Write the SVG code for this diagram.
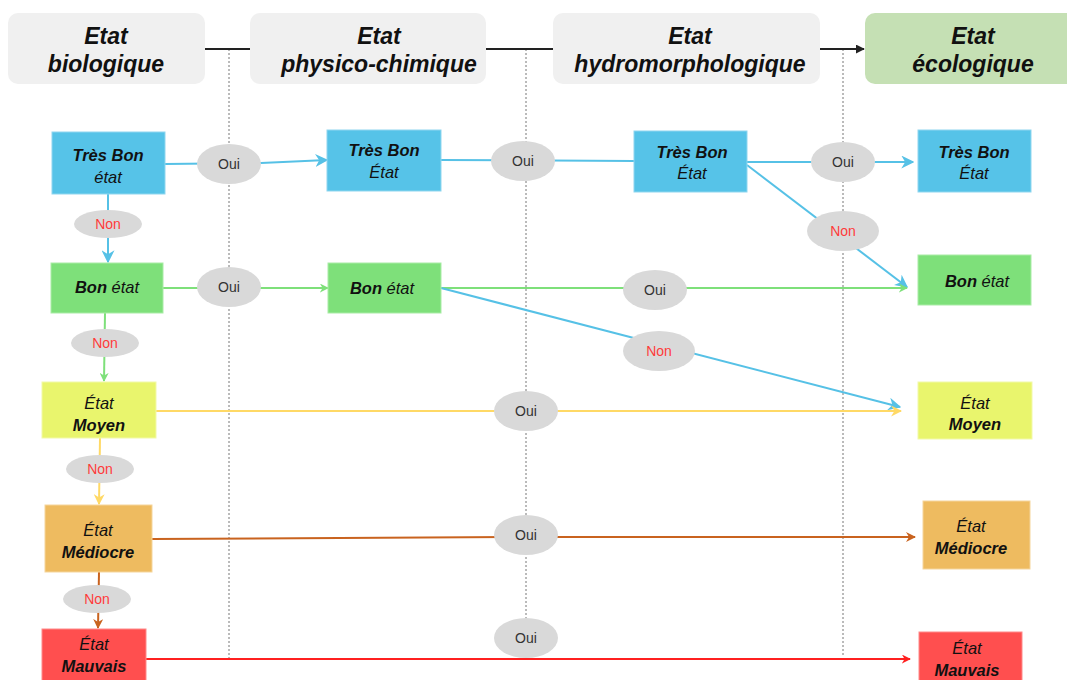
<svg xmlns="http://www.w3.org/2000/svg" width="1067" height="680" viewBox="0 0 1067 680">
<style>
.hdr{fill:#f0f0f0}
.hdrt{font-family:"Liberation Sans",Arial,sans-serif;font-size:23px;font-weight:bold;font-style:italic;fill:#111;text-anchor:middle}
.t{font-family:"Liberation Sans",Arial,sans-serif;font-size:16.5px;font-style:italic;fill:#111;text-anchor:middle}
.b{font-weight:bold}
.n{font-weight:normal}
.ell{fill:#d9d9d9}
.oui{font-family:"Liberation Sans",Arial,sans-serif;font-size:14px;fill:#333;text-anchor:middle}
.non{font-family:"Liberation Sans",Arial,sans-serif;font-size:14px;fill:#ff3b3b;text-anchor:middle}
.dot{stroke:#777;stroke-width:1;stroke-dasharray:2 2;fill:none}
.c{fill:none;stroke-width:2}
.blue{stroke:#56c1e6}
.green{stroke:#7ee07a}
.yellow{stroke:#ffd966}
.orange{stroke:#c9631f}
.red{stroke:#ff2020}
</style>
<defs>
<marker id="aBlueL" viewBox="0 0 10 10" refX="9" refY="5" markerWidth="13" markerHeight="13" markerUnits="userSpaceOnUse" orient="auto"><path d="M0,0 L10,5 L0,10 L3,5 Z" fill="#56c1e6"/></marker>
<marker id="aGreen" viewBox="0 0 10 10" refX="9" refY="5" markerWidth="9" markerHeight="9" markerUnits="userSpaceOnUse" orient="auto"><path d="M0,0 L10,5 L0,10 L3,5 Z" fill="#7ee07a"/></marker>
<marker id="aYellow" viewBox="0 0 10 10" refX="9" refY="5" markerWidth="11" markerHeight="11" markerUnits="userSpaceOnUse" orient="auto"><path d="M0,0 L10,5 L0,10 L3,5 Z" fill="#ffd966"/></marker>
<marker id="aOrange" viewBox="0 0 10 10" refX="9" refY="5" markerWidth="10" markerHeight="10" markerUnits="userSpaceOnUse" orient="auto"><path d="M0,0 L10,5 L0,10 L3,5 Z" fill="#c9631f"/></marker>
<marker id="aRed" viewBox="0 0 10 10" refX="9" refY="5" markerWidth="9" markerHeight="9" markerUnits="userSpaceOnUse" orient="auto"><path d="M0,0 L10,5 L0,10 L3,5 Z" fill="#ff2020"/></marker>
<marker id="aBlack" viewBox="0 0 10 10" refX="9" refY="5" markerWidth="9" markerHeight="9" markerUnits="userSpaceOnUse" orient="auto"><path d="M0,0 L10,5 L0,10 Z" fill="#222"/></marker>
</defs>
<rect width="1067" height="680" fill="#fff"/>

<g id="guides">
<line class="dot" x1="229" y1="49" x2="229" y2="660"/>
<line class="dot" x1="526" y1="49" x2="526" y2="656"/>
<line class="dot" x1="843" y1="49" x2="843" y2="656"/>
</g>

<g id="connectors">
<line x1="205" y1="49" x2="250" y2="49" stroke="#222" stroke-width="2"/>
<line x1="486" y1="49" x2="553" y2="49" stroke="#222" stroke-width="2"/>
<line x1="820" y1="49" x2="864" y2="49" stroke="#222" stroke-width="2" marker-end="url(#aBlack)"/>

<path class="c blue" d="M165,164 L261,163 L327,160" marker-end="url(#aBlueL)"/>
<path class="c blue" d="M441,160 L634,161"/>
<path class="c blue" d="M747,162 L913,162" marker-end="url(#aBlueL)"/>
<path class="c blue" d="M747,165 L907,287" marker-end="url(#aBlueL)"/>
<path class="c blue" d="M108,194 L108,262" marker-end="url(#aBlueL)"/>
<path class="c green" d="M163,288 L328,288" marker-end="url(#aGreen)"/>
<path class="c green" d="M441,288 L907,288" marker-end="url(#aGreen)"/>
<path class="c blue" d="M441,288 L900,407" marker-end="url(#aBlueL)"/>
<path class="c green" d="M105,313 L104,381" marker-end="url(#aGreen)"/>
<path class="c yellow" d="M156,411 L901,411" marker-end="url(#aYellow)"/>
<path class="c yellow" d="M100,438 L99,504" marker-end="url(#aYellow)"/>
<path class="c orange" d="M152,539 L526,537 L915,537" marker-end="url(#aOrange)"/>
<path class="c orange" d="M99,572 L98,628" marker-end="url(#aOrange)"/>
<path class="c red" d="M146,659 L910,659" marker-end="url(#aRed)"/>
</g>

<g id="labels">
<ellipse class="ell" cx="229" cy="164" rx="32" ry="20"/><text class="oui" x="229" y="169">Oui</text>
<ellipse class="ell" cx="108" cy="224" rx="34" ry="14"/><text class="non" x="108" y="229">Non</text>
<ellipse class="ell" cx="229" cy="287" rx="32" ry="20"/><text class="oui" x="229" y="292">Oui</text>
<ellipse class="ell" cx="105" cy="343" rx="34" ry="14"/><text class="non" x="105" y="348">Non</text>
<ellipse class="ell" cx="100" cy="469" rx="34" ry="14"/><text class="non" x="100" y="474">Non</text>
<ellipse class="ell" cx="97" cy="599" rx="34" ry="14"/><text class="non" x="97" y="604">Non</text>
<ellipse class="ell" cx="523" cy="161" rx="32" ry="20"/><text class="oui" x="523" y="166">Oui</text>
<ellipse class="ell" cx="843" cy="162" rx="32" ry="20"/><text class="oui" x="843" y="167">Oui</text>
<ellipse class="ell" cx="843" cy="231" rx="36" ry="20"/><text class="non" x="843" y="236">Non</text>
<ellipse class="ell" cx="655" cy="290" rx="32" ry="20"/><text class="oui" x="655" y="295">Oui</text>
<ellipse class="ell" cx="659" cy="351" rx="36" ry="20"/><text class="non" x="659" y="356">Non</text>
<ellipse class="ell" cx="526" cy="411" rx="32" ry="20"/><text class="oui" x="526" y="416">Oui</text>
<ellipse class="ell" cx="526" cy="535" rx="32" ry="20"/><text class="oui" x="526" y="540">Oui</text>
<ellipse class="ell" cx="526" cy="638" rx="32" ry="20"/><text class="oui" x="526" y="643">Oui</text>
</g>

<g id="hdr-bio"><rect class="hdr" x="8" y="13" width="197" height="71" rx="10"/><text class="hdrt" x="106" y="44">Etat</text><text class="hdrt" x="106" y="72">biologique</text></g>
<g id="hdr-phys"><rect class="hdr" x="250" y="13" width="236" height="71" rx="10"/><text class="hdrt" x="379" y="44">Etat</text><text class="hdrt" x="379" y="72">physico-chimique</text></g>
<g id="hdr-hydro"><rect class="hdr" x="553" y="13" width="267" height="71" rx="10"/><text class="hdrt" x="690" y="44">Etat</text><text class="hdrt" x="690" y="72">hydromorphologique</text></g>
<g id="hdr-eco"><rect x="865" y="13" width="212" height="71" rx="10" fill="#c5e0b4"/><text class="hdrt" x="973" y="44">Etat</text><text class="hdrt" x="973" y="72">écologique</text></g>

<g id="bio-tbe"><rect x="52" y="132" width="113" height="62" fill="#56c3e8" stroke="#8fd6ef"/><text class="t b" x="108" y="161">Très Bon</text><text class="t" x="108" y="183">état</text></g>
<g id="bio-be"><rect x="51" y="263" width="112" height="50" fill="#7ee07a" stroke="#a9eca6"/><text class="t" x="107" y="293"><tspan class="b">Bon</tspan> état</text></g>
<g id="bio-moy"><rect x="42" y="382" width="114" height="56" fill="#e9f56d" stroke="#f2f9a8"/><text class="t" x="99" y="409">État</text><text class="t b" x="99" y="431">Moyen</text></g>
<g id="bio-med"><rect x="45" y="505" width="107" height="67" fill="#eebb60" stroke="#f5d59c"/><text class="t" x="98" y="536">État</text><text class="t b" x="98" y="558">Médiocre</text></g>
<g id="bio-mau"><rect x="42" y="629" width="104" height="55" fill="#ff4f4f" stroke="#ff8a8a"/><text class="t" x="94" y="650">État</text><text class="t b" x="94" y="672">Mauvais</text></g>

<g id="pc-tbe"><rect x="327" y="130" width="114" height="61" fill="#56c3e8" stroke="#8fd6ef"/><text class="t b" x="384" y="156">Très Bon</text><text class="t" x="384" y="178">État</text></g>
<g id="pc-be"><rect x="328" y="263" width="113" height="50" fill="#7ee07a" stroke="#a9eca6"/><text class="t" x="382" y="294"><tspan class="b">Bon</tspan> état</text></g>

<g id="hy-tbe"><rect x="634" y="131" width="113" height="61" fill="#56c3e8" stroke="#8fd6ef"/><text class="t b" x="692" y="158">Très Bon</text><text class="t" x="692" y="179">État</text></g>

<g id="eco-tbe"><rect x="918" y="130" width="113" height="62" fill="#56c3e8" stroke="#8fd6ef"/><text class="t b" x="974" y="158">Très Bon</text><text class="t" x="974" y="179">État</text></g>
<g id="eco-be"><rect x="918" y="255" width="113" height="50" fill="#7ee07a" stroke="#a9eca6"/><text class="t" x="977" y="287"><tspan class="b">Bon</tspan> état</text></g>
<g id="eco-moy"><rect x="918" y="382" width="114" height="57" fill="#e9f56d" stroke="#f2f9a8"/><text class="t" x="975" y="409">État</text><text class="t b" x="975" y="430">Moyen</text></g>
<g id="eco-med"><rect x="923" y="501" width="107" height="68" fill="#eebb60" stroke="#f5d59c"/><text class="t" x="971" y="532">État</text><text class="t b" x="971" y="554">Médiocre</text></g>
<g id="eco-mau"><rect x="919" y="632" width="103" height="52" fill="#ff4f4f" stroke="#ff8a8a"/><text class="t" x="967" y="654">État</text><text class="t b" x="967" y="676">Mauvais</text></g>
</svg>
